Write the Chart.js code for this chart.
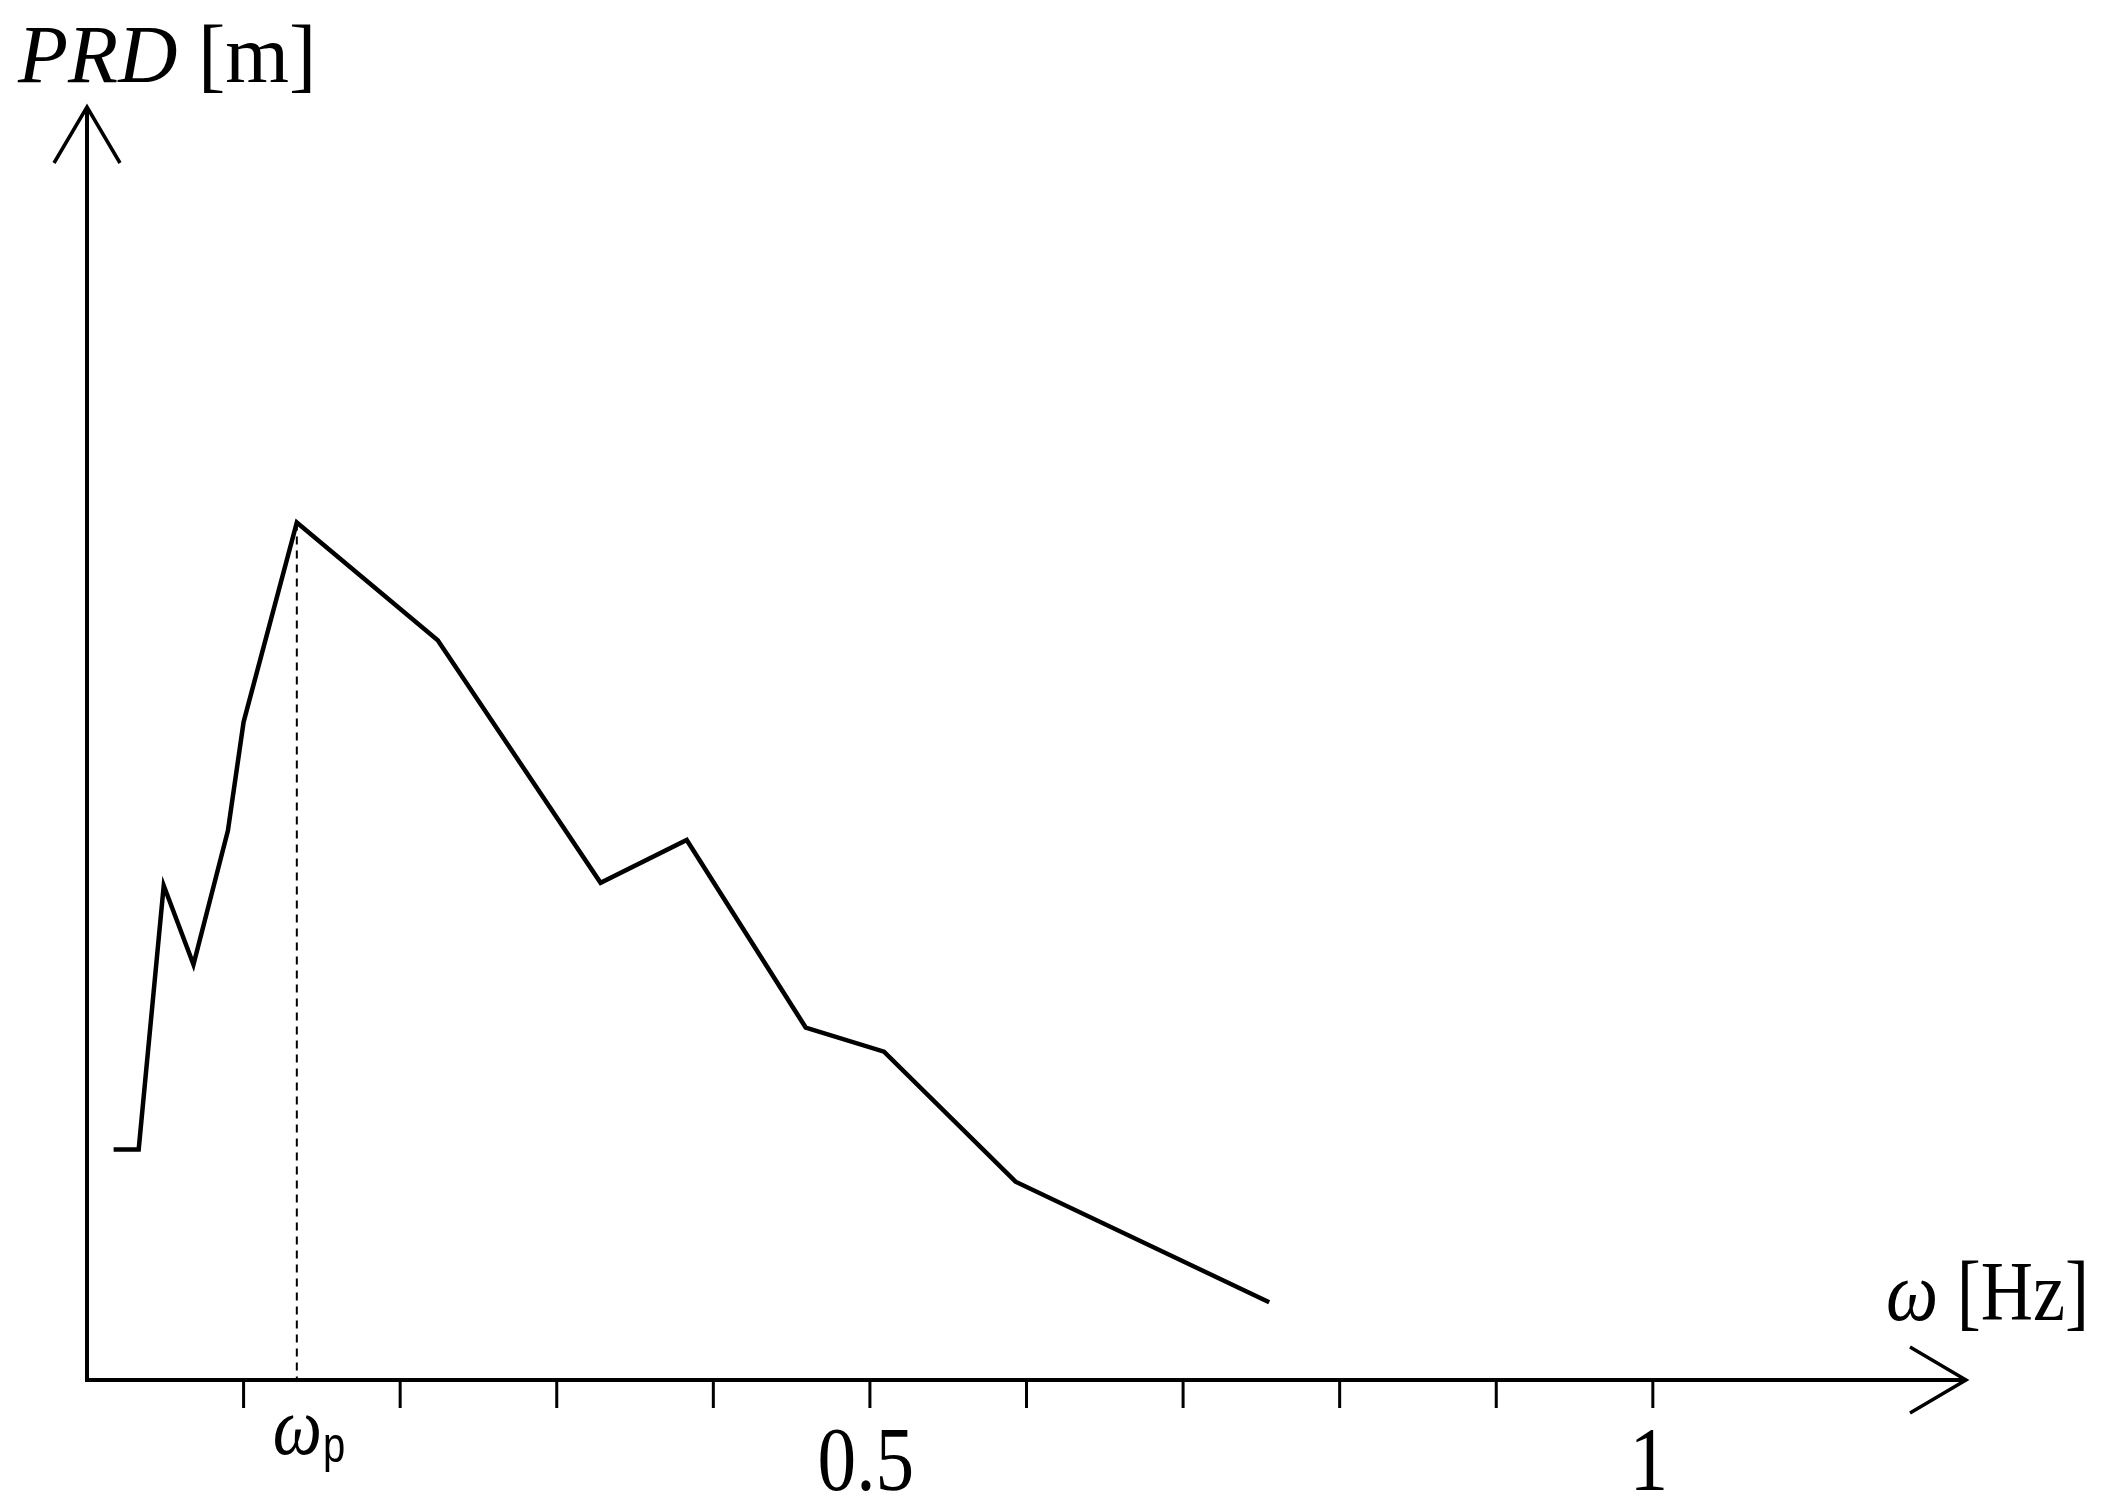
<!DOCTYPE html>
<html>
<head>
<meta charset="utf-8">
<script src="https://cdn.jsdelivr.net/npm/chart.js@4.4.1/dist/chart.umd.min.js"></script>
<style>
  html, body { margin: 0; padding: 0; background: #fff; }
  #wrap { width: 2104px; height: 1506px; position: relative; }
</style>
</head>
<body>
<div id="wrap"><canvas id="prdChart"></canvas></div>
<script>
// frequency [Hz] and PRD (arbitrary units, no scale on the y axis)
const omega = [0.017, 0.033, 0.049, 0.068, 0.090, 0.100, 0.134, 0.224, 0.328, 0.383, 0.459, 0.509, 0.593, 0.755];
const prd = [1.72, 1.72, 3.69, 3.10, 4.10, 4.91, 6.40, 5.52, 3.71, 4.03, 2.63, 2.45, 1.48, 0.58];
const tickValues = [0.1, 0.2, 0.3, 0.4, 0.5, 0.6, 0.7, 0.8, 0.9, 1.0];
const tickLabels = { 0.5: "0.5", 1.0: "1" };
const xMax = 1.2;
const yMax = 9.5;

const peakIndex = prd.indexOf(Math.max(...prd));
const omegaP = omega[peakIndex];

const serif = "'Liberation Serif', 'Times New Roman', serif";

// text squeezed horizontally like the original figure
function narrowText(ctx, text, x, y, sx) {
  ctx.save();
  ctx.translate(x, y);
  ctx.scale(sx, 1);
  ctx.fillText(text, 0, 0);
  ctx.restore();
}

// draws the arrowed axes, ticks, labels and the dashed ω_p marker
const axesPlugin = {
  id: "arrowAxes",
  afterDatasetsDraw(chart) {
    const { ctx, scales } = chart;
    const x = scales.x, y = scales.y;
    const x0 = x.getPixelForValue(0);
    const y0 = y.getPixelForValue(0);
    const xEnd = x.getPixelForValue(xMax);
    const yEnd = y.getPixelForValue(yMax);

    ctx.save();
    ctx.strokeStyle = "#000";
    ctx.fillStyle = "#000";
    ctx.lineCap = "butt";

    // dashed line at the peak frequency
    ctx.lineWidth = 2;
    ctx.setLineDash([8, 6]);
    ctx.beginPath();
    ctx.moveTo(x.getPixelForValue(omegaP), y.getPixelForValue(prd[peakIndex]));
    ctx.lineTo(x.getPixelForValue(omegaP), y0);
    ctx.stroke();
    ctx.setLineDash([]);

    // axes
    ctx.lineWidth = 4;
    ctx.beginPath();
    ctx.moveTo(x0, y0);
    ctx.lineTo(xEnd, y0);
    ctx.moveTo(x0, y0 + 2);
    ctx.lineTo(x0, yEnd);
    ctx.stroke();

    // arrow heads
    ctx.lineWidth = 3.5;
    ctx.lineJoin = "miter";
    ctx.beginPath();
    ctx.moveTo(x0 - 33, yEnd + 56);
    ctx.lineTo(x0, yEnd);
    ctx.lineTo(x0 + 33, yEnd + 56);
    ctx.moveTo(xEnd - 56, y0 - 33);
    ctx.lineTo(xEnd, y0);
    ctx.lineTo(xEnd - 56, y0 + 33);
    ctx.stroke();

    // ticks
    ctx.lineWidth = 3;
    ctx.beginPath();
    tickValues.forEach((v) => {
      const px = x.getPixelForValue(v);
      ctx.moveTo(px, y0);
      ctx.lineTo(px, y0 + 28);
    });
    ctx.stroke();

    // tick labels
    ctx.textAlign = "center";
    ctx.textBaseline = "alphabetic";
    ctx.font = "92px " + serif;
    tickValues.forEach((v) => {
      const lbl = tickLabels[v];
      if (lbl) narrowText(ctx, lbl, x.getPixelForValue(v) - 4, 1490, 0.84);
    });

    // ω_p label
    const pxP = x.getPixelForValue(omegaP);
    ctx.textAlign = "left";
    ctx.font = "italic 82px " + serif;
    const wW = ctx.measureText("ω").width * 0.85;
    narrowText(ctx, "ω", pxP - 24, 1454, 0.85);
    ctx.font = "50px 'Liberation Sans', Arial, sans-serif";
    narrowText(ctx, "p", pxP - 24 + wW + 1, 1462, 0.8);

    // axis titles
    ctx.font = "italic 82px " + serif;
    ctx.fillText("PRD", 18, 82);
    const prdW = ctx.measureText("PRD ").width;
    ctx.font = "82px " + serif;
    ctx.fillText("[m]", 18 + prdW, 82);

    ctx.font = "italic 84px " + serif;
    narrowText(ctx, "ω", 1886, 1320, 0.88);
    const omW = ctx.measureText("ω ").width * 0.88;
    ctx.font = "84px " + serif;
    narrowText(ctx, "[Hz]", 1886 + omW, 1320, 0.86);

    ctx.restore();
  },
};

const points = omega.map((w, i) => ({ x: w, y: prd[i] }));

new Chart(document.getElementById("prdChart"), {
  type: "scatter",
  data: {
    datasets: [
      {
        data: points,
        showLine: true,
        borderColor: "#000",
        borderWidth: 4.5,
        pointRadius: 0,
        tension: 0,
        fill: false,
        clip: false,
      },
    ],
  },
  options: {
    responsive: true,
    maintainAspectRatio: false,
    animation: false,
    layout: {
      padding: { left: 87, top: 107, right: 138, bottom: 126 },
    },
    plugins: {
      legend: { display: false },
      tooltip: { enabled: false },
    },
    scales: {
      x: { type: "linear", min: 0, max: xMax, display: false },
      y: { type: "linear", min: 0, max: yMax, display: false },
    },
  },
  plugins: [axesPlugin],
});
</script>
</body>
</html>
